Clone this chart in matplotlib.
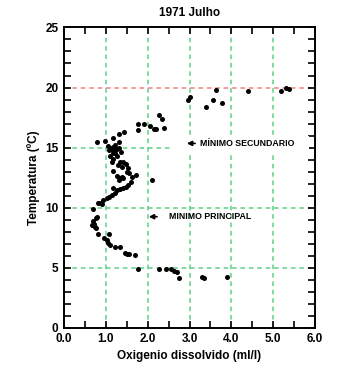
import numpy as np
import matplotlib.pyplot as plt
from matplotlib.patches import Rectangle
from matplotlib.ticker import MultipleLocator, FormatStrFormatter

plt.rcParams['font.family'] = ['Liberation Sans', 'DejaVu Sans']
plt.rcParams['font.weight'] = 'bold'

# oxigenio dissolvido (ml/l)
oxig = [2.26, 2.35, 1.78, 1.92, 2.05, 2.15, 2.21, 2.40, 1.77, 1.44,
        1.32, 1.18, 0.78, 0.98, 1.31, 1.05, 1.10, 1.15, 1.08, 1.20,
        1.26, 1.32, 1.16, 1.23, 1.16, 1.23, 1.10, 1.27, 1.35, 1.18,
        1.14, 1.34, 1.42, 1.47, 1.30, 1.39, 1.54, 1.50, 1.56, 1.18,
        1.27, 1.34, 1.42, 1.32, 1.39, 1.62, 1.73, 1.60, 2.10, 1.54,
        1.47, 1.42, 1.34, 1.26, 1.18, 1.22, 1.14, 1.08, 1.02, 0.92,
        0.85, 0.90, 0.81, 0.69, 0.79, 0.76, 0.69, 0.72, 0.68, 0.73,
        0.77, 0.82, 1.08, 0.95, 1.02, 1.04, 1.10, 1.22, 1.34, 1.46,
        1.50, 1.56, 1.70, 1.78, 2.28, 2.44, 2.55, 2.63, 2.69, 2.75,
        3.29, 3.35, 3.90,
        2.97, 3.00, 3.40, 3.56, 3.63, 3.77, 4.40, 5.18, 5.30, 5.38]

# temperatura (ºC)
temp = [17.72, 17.36, 16.97, 16.94, 16.81, 16.58, 16.58, 16.64, 16.44, 16.31,
        16.17, 15.78, 15.47, 15.56, 15.47, 15.14, 15.00, 14.89, 14.81, 14.75,
        14.86, 14.94, 15.08, 15.22, 14.53, 14.53, 14.31, 14.31, 14.67, 14.03,
        13.83, 13.83, 13.83, 13.64, 13.56, 13.42, 13.28, 13.00, 12.92, 13.08,
        12.64, 12.44, 12.44, 12.31, 12.58, 12.58, 12.72, 12.17, 12.31, 11.89,
        11.75, 11.61, 11.53, 11.47, 11.61, 11.19, 11.06, 10.92, 10.78, 10.64,
        10.36, 10.28, 10.36, 9.86, 9.25, 9.11, 8.92, 8.64, 8.56, 8.42,
        8.28, 7.78, 7.81, 7.50, 7.31, 7.03, 6.89, 6.75, 6.75, 6.25,
        6.11, 6.14, 6.03, 4.94, 4.94, 4.89, 4.86, 4.75, 4.67, 4.17,
        4.22, 4.17, 4.25,
        18.95, 19.20, 18.40, 19.00, 19.80, 18.70, 19.70, 19.70, 20.00, 19.90]

green_x = [1, 2, 3, 4, 5]
green_y = [5, 10, 15]
red_y = 20

fig = plt.figure(figsize=(3.5, 3.76), dpi=100)
ax = fig.add_axes([0.183, 0.128, 0.717, 0.799])

gcol = '#5fcf85'
for gx in green_x:
    ax.axvline(gx, color=gcol, ls=(0, (3, 2.5)), lw=1.1, zorder=1)
for gy in green_y:
    ax.axhline(gy, color=gcol, ls=(0, (3, 2.5)), lw=1.1, zorder=1)
ax.axhline(red_y, color='#f08080', ls=(0, (3, 2.5)), lw=1.1, zorder=1)

ax.scatter(oxig, temp, s=13, color='black', zorder=3, linewidths=0)

ax.set_xlim(0, 6)
ax.set_ylim(0, 25)
ax.xaxis.set_major_locator(MultipleLocator(1))
ax.xaxis.set_minor_locator(MultipleLocator(0.5))
ax.yaxis.set_major_locator(MultipleLocator(5))
ax.yaxis.set_minor_locator(MultipleLocator(1))
ax.xaxis.set_major_formatter(FormatStrFormatter('%.1f'))
ax.tick_params(which='both', direction='in', top=True, right=True,
               width=1.2, length=5, labelsize=8.5, pad=4)
for sp in ax.spines.values():
    sp.set_linewidth(1.4)

ax.set_title('1971 Julho', fontsize=8.5, fontweight='bold', pad=8)
ax.set_xlabel('Oxigenio dissolvido (ml/l)', fontsize=8.5, fontweight='bold', labelpad=3)
ax.set_ylabel('Temperatura (ºC)', fontsize=8.5, fontweight='bold', labelpad=4)

# fundo branco atras da legenda do minimo secundario
ax.add_patch(Rectangle((2.55, 14.6), 3.3, 1.4, facecolor='white',
                       edgecolor='none', zorder=2))
ax.annotate('', xy=(2.87, 15.35), xytext=(3.2, 15.35),
            arrowprops=dict(arrowstyle='-|>', color='black', lw=1.2,
                            mutation_scale=7), zorder=4)
ax.text(3.26, 15.35, 'MÍNIMO SECUNDARIO', fontsize=6.3, fontweight='bold',
        va='center', ha='left', zorder=4)
ax.annotate('', xy=(1.96, 9.25), xytext=(2.29, 9.25),
            arrowprops=dict(arrowstyle='-|>', color='black', lw=1.2,
                            mutation_scale=7), zorder=4)
ax.text(2.52, 9.25, 'MINIMO PRINCIPAL', fontsize=6.3, fontweight='bold',
        va='center', ha='left', zorder=4)

fig.savefig('out.png', dpi=100)
